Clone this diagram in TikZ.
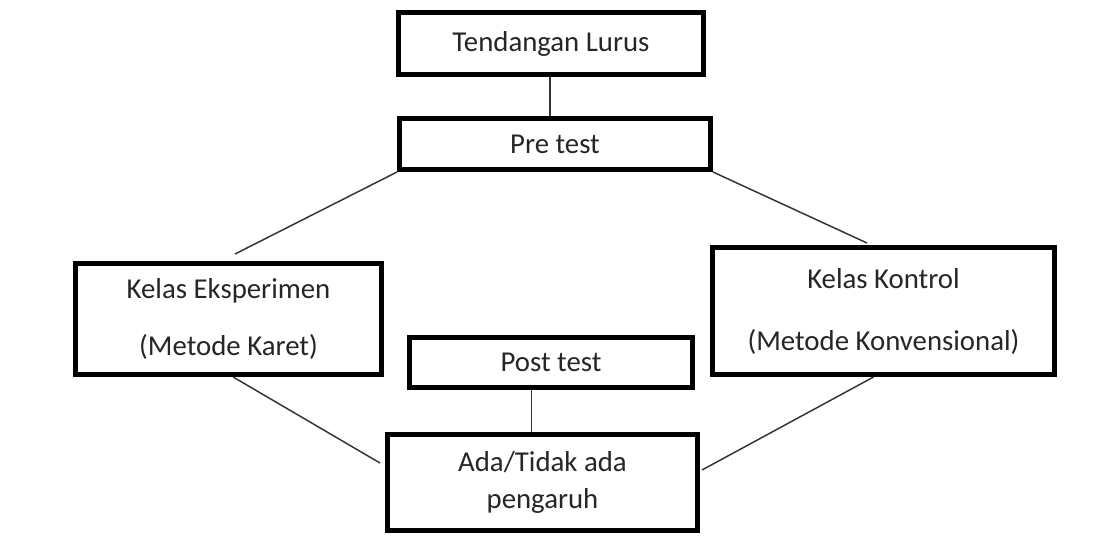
\documentclass[tikz,border=0pt]{standalone}
\usepackage{fontspec}
\setmainfont{Carlito}
\usetikzlibrary{positioning}

\tikzset{
  kotak/.style={draw=black, line width=3.75pt, fill=white, align=center,
    inner sep=0pt, text=black!85, font=\fontsize{21.6}{26}\selectfont},
  garis/.style={draw=black!80, line width=1.1pt}
}

\begin{document}
\begin{tikzpicture}[x=0.75pt, y=-0.75pt]

    % Fix the size of the page
    \useasboundingbox (0,0) rectangle (1094,536);

    % Top box
    \node[kotak, minimum width=228.75pt, minimum height=46.5pt] (tendangan) at (551,43.5) {Tendangan Lurus};

    % Pre test
    \node[kotak, minimum width=233.25pt, minimum height=38.25pt] (pre) at (555,144) {Pre test};

    % The two classes
    \node[kotak, minimum width=229.5pt, minimum height=83.25pt] (eksperimen) at (228.5,319)
        {Kelas Eksperimen\\[16.75pt](Metode Karet)};
    \node[kotak, minimum width=256.5pt, minimum height=95.25pt] (kontrol) at (883.5,311)
        {Kelas Kontrol\\[20.5pt](Metode Konvensional)};

    % Post test
    \node[kotak, minimum width=212.25pt, minimum height=37.5pt] (post) at (551,362.5) {Post test};

    % Result
    \node[kotak, minimum width=232.5pt, minimum height=72pt] (hasil) at (542.5,482.5)
        {Ada/Tidak ada\\[1.75pt]pengaruh};

    % Free ends of the slanted lines
    \coordinate (ujungA) at (235,254);
    \coordinate (ujungB) at (867,243);
    \coordinate (ujungC) at (380,463);
    \coordinate (ujungD) at (702,470);

    % Vertical lines
    \draw[garis] ([xshift=-0.75pt]tendangan.south) -- ([xshift=-0.75pt]tendangan.south |- pre.north);
    \draw[garis] ([xshift=-14.5pt]post.south) -- ([xshift=-14.5pt]post.south |- hasil.north);

    % From pre test to the classes
    \draw[garis] (pre.south west) -- (ujungA);
    \draw[garis] (pre.south east) -- (ujungB);

    % From the classes to the result
    \draw[garis] ([xshift=3.5pt]eksperimen.south) -- (ujungC);
    \draw[garis] ([xshift=-7.5pt]kontrol.south) -- (ujungD);

\end{tikzpicture}
\end{document}
